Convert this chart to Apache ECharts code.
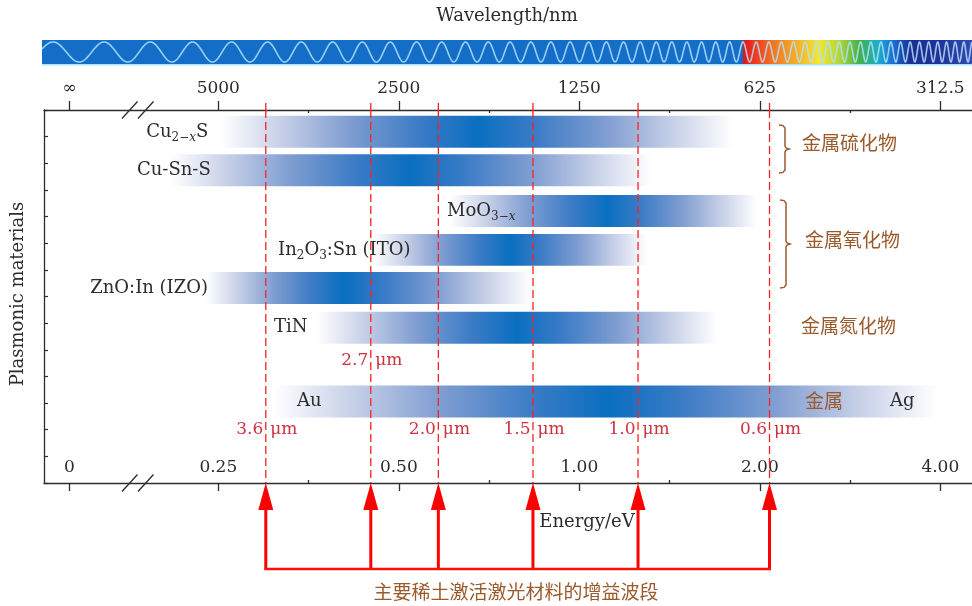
<!DOCTYPE html>
<html><head><meta charset="utf-8">
<script src="https://cdn.jsdelivr.net/npm/echarts@6/dist/echarts.min.js"></script>
<style>html,body{margin:0;padding:0;background:#fff}#c{width:972px;height:606px}</style>
</head><body><div id="c"></div>
<script>
// ---------------- DATA ----------------
const materials = ['Cu2-xS', 'Cu-Sn-S', 'MoO3-x', 'In2O3:Sn (ITO)', 'ZnO:In (IZO)', 'TiN', 'Au / Ag'];
// plasmon resonance bands, photon energy in eV (visible start, peak, end of the blue band)
const bandStart = [0.252, 0.208, 0.609, 0.453, 0.238, 0.365, 0.309];
const bandPeak  = [0.678, 0.522, 1.112, 0.766, 0.404, 0.787, 1.117];
const bandEnd   = [1.804, 1.320, 1.977, 1.295, 0.830, 1.703, 3.950];
const energyTicks = [0, 0.25, 0.5, 1, 2, 4];
const energyTickLabels = ['0', '0.25', '0.50', '1.00', '2.00', '4.00'];
const wavelengthTickLabels = ['\u221E', '5000', '2500', '1250', '625', '312.5'];
// gain bands of rare-earth doped laser materials (dashed lines), as drawn, in eV
const gainLineEnergy = [0.300, 0.449, 0.582, 0.837, 1.253, 2.076];
const gainLineLabels = ['3.6', '2.7', '2.0', '1.5', '1.0', '0.6'];
const groupLabels = ['金属硫化物', '金属氧化物', '金属氮化物', '金属'];

// ---------------- LAYOUT ----------------
const U_ZERO = -0.8255;              // broken-axis slot for E = 0
const X_MIN = -0.9657, X_MAX = 4.1756;
function u(E) { return E === 0 ? U_ZERO : Math.log2(E / 0.25); }
const rowPos = [13.18, 11.74, 10.21, 8.75, 7.32, 5.83, 3.06];   // y-axis units
const BAR_H = 1.2;
const labelText = ['Cu{s|2\u2212}{si|x}S', 'Cu-Sn-S', 'MoO{s|3\u2212}{si|x}', 'In{s|2}O{s|3}:Sn (ITO)', 'ZnO:In (IZO)', 'TiN', 'Au'];
const labelAnchor = [[-0.0554, 'right'], [-0.042, 'right'], [1.267, 'left'], [0.331, 'left'], [-0.057, 'right'], [0.309, 'left'], [0.436, 'left']];
const extraLabel = { text: 'Ag', u: 3.721, row: 6 };
const gainLabelRow = [2.02, 4.6, 2.02, 2.02, 2.02, 2.02];

const SERIF = 'DejaVu Serif';
const CJK = 'Noto Sans CJK SC';
const INK = '#2c2c2c';
const RED = '#ff2020';
const LABEL_RED = '#cc3340';
const BROWN = '#9a5a2c';

const majorU = energyTicks.map(u);
const minorU = [];
for (let i = 1; i < energyTicks.length - 1; i++) minorU.push((u(energyTicks[i]) + u(energyTicks[i + 1])) / 2);
function tickIndex(v) { return majorU.findIndex(m => Math.abs(m - v) < 1e-6); }

const profile = [[0, '#0a6fc0'], [0.22, '#3a7bc6'], [0.5, '#7f9dd1'], [0.75, '#c3cde6'], [1, '#ffffff']];
function bandStops(fp) {
  const stops = [];
  for (let k = profile.length - 1; k >= 0; k--) stops.push({ offset: fp * (1 - profile[k][0]), color: profile[k][1] });
  for (let k = 1; k < profile.length; k++) stops.push({ offset: fp + (1 - fp) * profile[k][0], color: profile[k][1] });
  return stops;
}

const rich = {
  s: { fontSize: 12, fontFamily: SERIF, fill: INK, padding: [12, 0, 0, 0] },
  si: { fontSize: 12, fontFamily: SERIF, fill: INK, fontStyle: 'italic', padding: [12, 0, 0, 0] }
};

// ---------------- decoration: spectrum strip ----------------
const SPX0 = 42, SPX1 = 972, SPY0 = 40, SPH = 24.5, RB0 = 743;
const wavePts = [];
(function () {
  const L = SPX1 - SPX0, f0 = 1 / 55, r = 6.6;
  for (let x = SPX0; x <= SPX1; x += 0.5) {
    const t = (x - SPX0) / L;
    const ph = 2 * Math.PI * f0 * L / Math.log(r) * (Math.pow(r, t) - 1);
    wavePts.push([x, SPY0 + 12 - 10 * Math.sin(ph + 0.3)]);
  }
})();
const rainbow = new echarts.graphic.LinearGradient(0, 0, 1, 0, [
  { offset: 0, color: '#e3121a' }, { offset: 0.04, color: '#ee3020' }, { offset: 0.14, color: '#f27a22' },
  { offset: 0.25, color: '#f5b82a' }, { offset: 0.33, color: '#f2e632' }, { offset: 0.42, color: '#b5d638' },
  { offset: 0.51, color: '#40b04a' }, { offset: 0.59, color: '#1ab0c8' }, { offset: 0.66, color: '#1b6ad0' },
  { offset: 0.73, color: '#1c2e90' }, { offset: 0.84, color: '#222f96' }, { offset: 1, color: '#3348b0' }
]);

function bracket(x, y0, ym, y1) {
  return [[x - 6, y0], [x - 2, y0 + 0.6], [x, y0 + 3], [x, ym - 3], [x + 1, ym - 1], [x + 4, ym], [x + 1, ym + 1], [x, ym + 3], [x, y1 - 3], [x - 2, y1 - 0.6], [x - 6, y1]];
}
const breakLines = [];
[110, 483].forEach(yy => {
  [122, 138].forEach(xx => breakLines.push({ type: 'line', shape: { x1: xx, y1: yy + 8.5, x2: xx + 15.5, y2: yy - 8.5 }, style: { stroke: INK, lineWidth: 1.3 }, z: 20 }));
});

const chart = echarts.init(document.getElementById('c'));
const grid = { left: 44, right: 0, top: 110, bottom: 123 };
const txt = (extra) => Object.assign({ fontFamily: SERIF, fontSize: 17, color: INK }, extra || {});

chart.setOption({
  animation: false,
  grid: [Object.assign({}, grid), Object.assign({}, grid)],
  xAxis: [
    { gridIndex: 0, type: 'value', position: 'bottom', min: X_MIN, max: X_MAX,
      axisLine: { show: true, onZero: false, lineStyle: { color: INK, width: 1.3 } },
      axisTick: { show: true, inside: false, length: 8, customValues: majorU, lineStyle: { color: INK, width: 1.3 } },
      axisLabel: txt({ show: true, inside: true, margin: 7, customValues: majorU, formatter: v => energyTickLabels[tickIndex(v)] }),
      splitLine: { show: false } },
    { gridIndex: 0, type: 'value', position: 'top', min: X_MIN, max: X_MAX,
      axisLine: { show: true, onZero: false, lineStyle: { color: INK, width: 1.3 } },
      axisTick: { show: true, inside: false, length: 9, customValues: majorU, lineStyle: { color: INK, width: 1.3 } },
      axisLabel: txt({ show: true, inside: false, margin: 13, customValues: majorU, formatter: v => wavelengthTickLabels[tickIndex(v)] }),
      splitLine: { show: false } },
    { gridIndex: 1, type: 'value', position: 'bottom', min: X_MIN, max: X_MAX,
      axisLine: { show: false, onZero: false }, axisLabel: { show: false }, splitLine: { show: false },
      axisTick: { show: true, inside: true, length: 3, customValues: minorU, lineStyle: { color: INK, width: 1.3 } } },
    { gridIndex: 1, type: 'value', position: 'top', min: X_MIN, max: X_MAX,
      axisLine: { show: false, onZero: false }, axisLabel: { show: false }, splitLine: { show: false },
      axisTick: { show: true, inside: true, length: 3, customValues: minorU, lineStyle: { color: INK, width: 1.3 } } }
  ],
  yAxis: [
    { gridIndex: 0, type: 'value', position: 'left', min: 0, max: 14, interval: 1,
      axisLine: { show: true, onZero: false, lineStyle: { color: INK, width: 1.3 } },
      axisTick: { show: true, inside: true, length: 4, lineStyle: { color: INK, width: 1.2 } },
      axisLabel: { show: false }, splitLine: { show: false } },
    { gridIndex: 1, type: 'value', min: 0, max: 14, show: false, axisLine: { onZero: false } }
  ],
  series: [
    { type: 'custom', xAxisIndex: 0, yAxisIndex: 0, z: 2, clip: false,
      data: materials.map((m, i) => [u(bandStart[i]), u(bandPeak[i]), u(bandEnd[i]), i]),
      renderItem: (params, api) => {
        const i = api.value(3);
        const s = api.coord([api.value(0), rowPos[i]]);
        const p = api.coord([api.value(1), rowPos[i]]);
        const e = api.coord([api.value(2), rowPos[i]]);
        const h = api.size([0, BAR_H])[1];
        const w = e[0] - s[0];
        return { type: 'rect', shape: { x: s[0], y: s[1] - h / 2, width: w, height: h },
          style: { fill: new echarts.graphic.LinearGradient(0, 0, 1, 0, bandStops((p[0] - s[0]) / w)) } };
      } },
    { type: 'custom', xAxisIndex: 0, yAxisIndex: 0, z: 4, clip: false,
      data: gainLineEnergy.map((E, i) => [u(E), i]),
      renderItem: (params, api) => {
        const i = api.value(1);
        const x = api.coord([api.value(0), 0])[0];
        const yTop = api.coord([0, 14])[1], yBot = api.coord([0, 0])[1];
        const ly = api.coord([0, gainLabelRow[i]])[1];
        const f = { fontFamily: SERIF, fontSize: 17, fill: LABEL_RED, verticalAlign: 'middle' };
        return { type: 'group', children: [
          { type: 'line', shape: { x1: x, y1: yTop - 7, x2: x, y2: yTop }, style: { stroke: RED, lineWidth: 1.3 } },
          { type: 'line', shape: { x1: x, y1: yTop, x2: x, y2: yBot }, style: { stroke: RED, lineWidth: 1.3, lineDash: [8, 4] } },
          { type: 'text', x: x - 2.5, y: ly, style: Object.assign({ text: gainLineLabels[i], align: 'right' }, f) },
          { type: 'text', x: x + 4.5, y: ly, style: Object.assign({ text: '\u03BCm', align: 'left' }, f) },
          { type: 'line', shape: { x1: x, y1: yBot + 24, x2: x, y2: yBot + 86 }, style: { stroke: '#ff0000', lineWidth: 3 } },
          { type: 'polygon', shape: { points: [[x, yBot], [x - 7.5, yBot + 27], [x + 7.5, yBot + 27]] }, style: { fill: '#ff0000' } }
        ] };
      } },
    { type: 'custom', xAxisIndex: 0, yAxisIndex: 0, z: 4, clip: false,
      data: [[u(Math.min.apply(null, gainLineEnergy)), u(Math.max.apply(null, gainLineEnergy))]],
      renderItem: (params, api) => {
        const a = api.coord([api.value(0), 0]), b = api.coord([api.value(1), 0]);
        return { type: 'line', shape: { x1: a[0] - 1.5, y1: a[1] + 86, x2: b[0] + 1.5, y2: a[1] + 86 }, style: { stroke: '#ff1010', lineWidth: 2.5 } };
      } },
    { type: 'custom', xAxisIndex: 0, yAxisIndex: 0, z: 6, clip: false,
      data: materials.map((m, i) => [labelAnchor[i][0], i]).concat([[extraLabel.u, 99]]),
      renderItem: (params, api) => {
        const i = api.value(1);
        const isExtra = i === 99;
        const row = isExtra ? rowPos[extraLabel.row] : rowPos[i];
        const pt = api.coord([api.value(0), row]);
        return { type: 'text', x: pt[0], y: pt[1], style: {
          text: isExtra ? extraLabel.text : labelText[i], rich: rich,
          fontFamily: SERIF, fontSize: 18, fill: INK,
          align: isExtra ? 'left' : labelAnchor[i][1], verticalAlign: 'middle' } };
      } }
  ],
  graphic: [
    { type: 'rect', shape: { x: SPX0, y: SPY0, width: SPX1 - SPX0, height: SPH }, style: { fill: '#146ec8' }, z: 1 },
    { type: 'rect', shape: { x: RB0, y: SPY0, width: SPX1 - RB0, height: SPH }, style: { fill: rainbow }, z: 2 },
    { type: 'rect', shape: { x: SPX0, y: SPY0 + SPH - 0.5, width: SPX1 - SPX0, height: 1.5 }, style: { fill: '#a6e6f8' }, z: 3 },
    { type: 'polyline', shape: { points: wavePts }, style: { stroke: 'rgba(175,225,250,0.85)', lineWidth: 1.6, fill: null }, z: 4 },
    { type: 'text', x: 507, y: 16, style: { text: 'Wavelength/nm', fontFamily: SERIF, fontSize: 18, fill: INK, align: 'center', verticalAlign: 'middle' } },
    { type: 'text', x: 587, y: 522, style: { text: 'Energy/eV', fontFamily: SERIF, fontSize: 18, fill: INK, align: 'center', verticalAlign: 'middle' } },
    { type: 'text', x: 18, y: 294, rotation: Math.PI / 2, style: { text: 'Plasmonic materials', fontFamily: SERIF, fontSize: 18, fill: INK, align: 'center', verticalAlign: 'middle' } },
    { type: 'text', x: 802, y: 143, style: { text: groupLabels[0], fontFamily: CJK, fontSize: 19, fill: BROWN, align: 'left', verticalAlign: 'middle' } },
    { type: 'text', x: 805, y: 240, style: { text: groupLabels[1], fontFamily: CJK, fontSize: 19, fill: BROWN, align: 'left', verticalAlign: 'middle' } },
    { type: 'text', x: 801, y: 326, style: { text: groupLabels[2], fontFamily: CJK, fontSize: 19, fill: BROWN, align: 'left', verticalAlign: 'middle' } },
    { type: 'text', x: 805, y: 401, style: { text: groupLabels[3], fontFamily: CJK, fontSize: 19, fill: BROWN, align: 'left', verticalAlign: 'middle' }, z: 10 },
    { type: 'text', x: 516, y: 592, style: { text: '主要稀土激活激光材料的增益波段', fontFamily: CJK, fontSize: 19, fill: BROWN, align: 'center', verticalAlign: 'middle' } },
    { type: 'polyline', shape: { points: bracket(785, 125, 149, 173) }, style: { stroke: BROWN, lineWidth: 1.5, fill: null } },
    { type: 'polyline', shape: { points: bracket(786, 200, 244, 288) }, style: { stroke: BROWN, lineWidth: 1.5, fill: null } }
  ].concat(breakLines)
});
</script>
</body></html>
